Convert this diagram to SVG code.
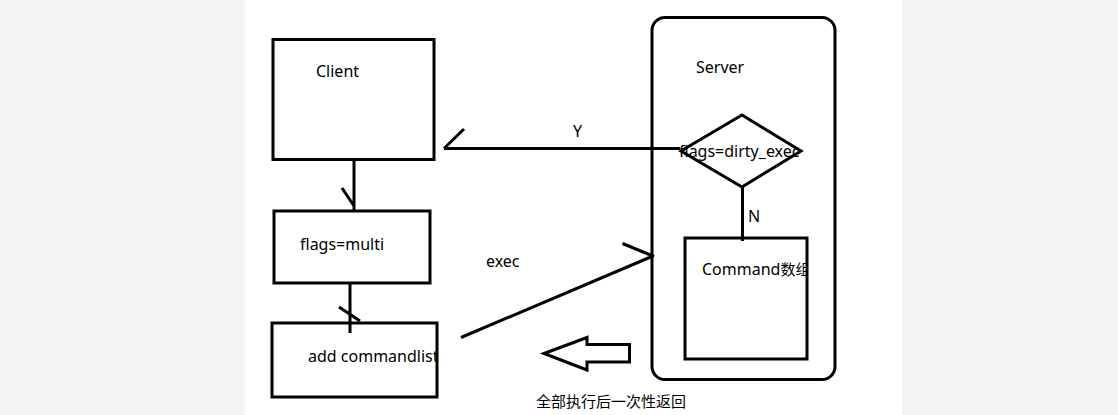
<svg xmlns="http://www.w3.org/2000/svg" width="1118" height="415" viewBox="0 0 1118 415">
<style>
.s{fill:none;stroke:#000;stroke-width:3;stroke-linecap:butt}
.b{fill:#fff;stroke:#000;stroke-width:3}
.t{font-family:"Noto Sans","Noto Sans CJK SC",sans-serif;font-size:16px;fill:#000}
.c{font-family:"Noto Sans","Noto Sans CJK SC",sans-serif;font-size:15px;fill:#000}
</style>
<defs>
<clipPath id="clipAdd"><rect x="272" y="323" width="165" height="74"/></clipPath>
<clipPath id="clipCmd"><rect x="685" y="238" width="122" height="121"/></clipPath>
</defs>
<rect x="0" y="0" width="1118" height="415" fill="#f4f4f4"/>
<rect x="245" y="0" width="657" height="415" fill="#fff"/>
<g id="server">
<rect class="b" x="652" y="17.5" width="183" height="362" rx="13"/>
<text class="t" x="696" y="73">Server</text>
</g>
<g id="client">
<rect class="b" x="273" y="39.5" width="161" height="120"/>
<text class="t" x="316" y="77">Client</text>
</g>
<g id="flags-multi">
<rect class="b" x="274" y="211" width="156" height="72"/>
<text class="t" x="300" y="250">flags=multi</text>
</g>
<g id="add-commandlist">
<rect class="b" x="272" y="323" width="165" height="74"/>
<text class="t" x="308" y="362" clip-path="url(#clipAdd)">add commandlist</text>
</g>
<g id="command-array">
<rect class="b" x="685" y="238" width="122" height="121"/>
<text class="t" x="702" y="275" clip-path="url(#clipCmd)">Command<tspan font-size="15px">数组</tspan></text>
</g>
<g id="decision">
<polygon class="b" points="742,115 801,151 742,187 681,151"/>
<text class="t" x="679" y="157">flags=dirty_exec</text>
</g>
<g id="return-arrow">
<polygon class="b" points="544,353.5 587,337.5 587,344.5 629.5,344.5 629.5,362 587,362 587,370"/>
</g>
<g id="connectors">
<path class="s" d="M680,148.5 L444,148.5 M444,148.5 L464,129"/>
<path class="s" d="M354,160 L354,210 M342,188 L354,206"/>
<path class="s" d="M350,283 L350,333 M339,307 L360,321"/>
<path class="s" d="M461,337.5 L653,256 M622.5,243.5 L654,256.5"/>
<path class="s" d="M742.5,187 L742.5,241"/>
</g>
<text class="t" x="573" y="137">Y</text>
<text class="t" x="486" y="267">exec</text>
<text class="t" x="748" y="222">N</text>
<text class="c" x="536" y="407">全部执行后一次性返回</text>
</svg>
